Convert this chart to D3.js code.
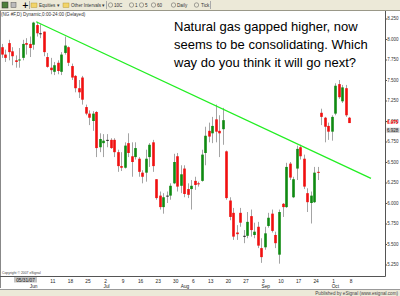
<!DOCTYPE html>
<html>
<head>
<meta charset="utf-8">
<script src="https://cdn.jsdelivr.net/npm/d3@7"></script>
<style>
  body { margin: 0; background: #fff; overflow: hidden; }
  svg { display: block; }
  .small { font-family: "Liberation Sans", Arial, sans-serif; font-size: 4.6px; fill: #333; }
</style>
</head>
<body>
<div id="chart"></div>
<script>
// NG #F daily candles, May 22 - Oct 8 2007: [open, high, low, close]
var ohlc = [
  [7.90,7.94,7.77,7.81],[7.81,7.87,7.72,7.77],[7.95,7.99,7.74,7.84],[7.85,7.90,7.68,7.79],[7.74,7.80,7.65,7.72],
  [7.74,7.89,7.65,7.75],[7.77,7.99,7.74,7.94],[7.95,8.01,7.81,7.93],[7.94,8.03,7.78,7.89],[7.93,8.21,7.87,8.20],
  [8.17,8.21,8.03,8.07],[8.07,8.18,8.01,8.07],[8.09,8.09,7.79,7.84],[7.78,7.83,7.65,7.66],[7.65,7.77,7.57,7.62],
  [7.60,7.72,7.56,7.68],[7.71,7.74,7.57,7.61],[7.60,7.84,7.56,7.81],[7.83,8.03,7.81,7.92],[7.90,7.91,7.67,7.71],
  [7.67,7.70,7.50,7.53],[7.55,7.56,7.35,7.40],[7.40,7.50,7.28,7.35],[7.53,7.55,7.20,7.26],[7.17,7.20,7.07,7.09],
  [7.09,7.13,6.95,7.04],[7.00,7.12,6.88,7.09],[7.11,7.12,6.56,6.67],[6.68,6.85,6.62,6.78],[6.73,6.84,6.56,6.76],
  [6.77,6.84,6.68,6.77],[6.77,6.79,6.66,6.67],[6.77,6.79,6.56,6.62],[6.62,6.65,6.38,6.45],[6.45,6.62,6.39,6.43],
  [6.43,6.74,6.42,6.70],[6.73,6.85,6.56,6.61],[6.57,6.74,6.32,6.50],[6.56,6.74,6.53,6.67],[6.54,6.56,6.32,6.38],
  [6.37,6.40,6.24,6.32],[6.37,6.65,6.26,6.54],[6.56,6.73,6.44,6.71],[6.74,6.77,6.38,6.45],[6.29,6.29,6.04,6.06],
  [6.09,6.14,5.92,5.95],[5.95,6.12,5.87,6.07],[6.09,6.14,6.00,6.09],[6.09,6.24,6.04,6.21],[6.24,6.60,6.23,6.50],
  [6.57,6.61,6.14,6.20],[6.21,6.46,6.12,6.35],[6.42,6.46,6.07,6.11],[6.17,6.24,6.06,6.10],[6.17,6.28,5.92,6.21],
  [6.27,6.32,6.16,6.22],[6.24,6.26,6.20,6.23],[6.27,6.65,6.26,6.59],[6.61,6.93,6.46,6.82],[6.88,6.98,6.74,6.81],
  [6.85,7.05,6.73,6.94],[7.02,7.20,6.74,6.87],[6.88,7.07,6.56,6.85],[6.90,7.16,6.71,7.01],[6.63,6.64,6.04,6.06],
  [6.03,6.07,5.79,5.83],[5.88,5.94,5.55,5.59],[5.64,5.73,5.55,5.62],[5.88,5.94,5.71,5.76],[5.60,5.67,5.51,5.60],
  [5.60,5.89,5.57,5.77],[5.84,5.92,5.59,5.67],[5.61,5.76,5.57,5.65],[5.71,5.77,5.45,5.48],[5.45,5.57,5.27,5.34],
  [5.46,5.71,5.43,5.63],[5.72,5.88,5.70,5.82],[5.87,5.92,5.64,5.66],[5.61,5.65,5.45,5.51],[5.37,5.92,5.26,5.89],
  [5.99,6.00,5.83,5.95],[5.95,6.49,5.94,6.44],[6.48,6.50,6.28,6.31],[6.07,6.32,6.06,6.29],[6.42,6.70,6.28,6.66],
  [6.68,6.71,6.53,6.57],[6.54,6.59,6.17,6.20],[6.12,6.18,5.89,6.01],[6.00,6.14,5.75,6.09],[6.01,6.44,6.00,6.37],
  [6.38,6.44,6.28,6.37],[7.10,7.15,6.95,7.05],[7.04,7.05,6.74,6.93],[6.94,6.98,6.77,6.87],[6.87,7.07,6.76,7.05],
  [7.09,7.46,7.07,7.43],[7.45,7.50,7.27,7.29],[7.24,7.44,7.22,7.41],[7.40,7.44,7.05,7.07],[7.04,7.05,6.975,6.975]
];

var priceTicks = [5.25, 5.5, 5.75, 6.0, 6.25, 6.5, 6.75, 7.0, 7.25, 7.5, 7.75, 8.0, 8.25];

// bar index -> label
var dayTicks = [
  {i: 14, label: "11"}, {i: 19, label: "18"}, {i: 24, label: "25"}, {i: 29, label: "2"},
  {i: 34, label: "9"}, {i: 39, label: "16"}, {i: 44, label: "23"}, {i: 49, label: "30"},
  {i: 54, label: "6"}, {i: 59, label: "13"}, {i: 64, label: "20"}, {i: 69, label: "27"},
  {i: 74, label: "3"}, {i: 79, label: "10"}, {i: 84, label: "17"}, {i: 89, label: "24"},
  {i: 94, label: "1"}, {i: 99, label: "8"}
];
var monthTicks = [
  {i: 8, label: "Jun"}, {i: 29, label: "Jul"}, {i: 51, label: "Aug"}, {i: 74, label: "Sep"}, {i: 94, label: "Oct"}
];
var cursorDate = {i: 7, label: "05/31/07"};

// hand-drawn trendline, bar index / price
var trendLine = [{i: 9.8, p: 8.21}, {i: 105.2, p: 6.30}];

var lastPrice = 6.975, prevPrice = 6.928;

var noteLines = [
  "Natural gas gapped higher, now",
  "seems to be consolidating. Which",
  "way do you think it will go next?"
];

var W = 400, H = 296;
var small = "Liberation Sans, Arial, sans-serif";
var svg = d3.select("#chart").append("svg")
    .attr("width", W)
    .attr("height", H);

svg.append("rect").attr("width", W).attr("height", H).attr("fill", "#fff");

var x = d3.scaleLinear().domain([0, 99]).range([1.7, 349.2]);
var y = d3.scaleLinear().domain([5.25, 8.25]).range([264.5, 18.5]);

// toolbar
var tb = svg.append("g");
tb.append("rect").attr("width", W).attr("height", 10).attr("fill", "#ece9d8");
tb.append("line").attr("x1", 0).attr("x2", W).attr("y1", 10.5).attr("y2", 10.5).attr("stroke", "#9a9888");
tb.append("rect").attr("x", 2).attr("y", 2).attr("width", 6).attr("height", 6).attr("fill", "#4f7f3a").attr("stroke", "#333").attr("stroke-width", 0.5);
tb.append("rect").attr("x", 11).attr("y", 2.5).attr("width", 5).attr("height", 5).attr("fill", "#bbb").attr("stroke", "#555").attr("stroke-width", 0.5);
tb.append("text").attr("x", 22).attr("y", 8).attr("font-size", 8).attr("font-weight", "bold").attr("font-family", "DejaVu Sans").text("+");
[31, 63].forEach(function(fx) {
  tb.append("rect").attr("x", fx).attr("y", 3).attr("width", 6).attr("height", 4.5).attr("fill", "#f2d46a").attr("stroke", "#a88a2a").attr("stroke-width", 0.4);
});
var tbText = [
  {x: 39, t: "Equities  \u25be"}, {x: 71, t: "Other Intervals  \u25be"},
  {x: 114, t: "10C"}, {x: 135, t: "1"}, {x: 145, t: "5"}, {x: 157, t: "60"}, {x: 177, t: "Daily"}, {x: 201, t: "Tick"}
];
tbText.forEach(function(d) {
  tb.append("text").attr("class", "small").attr("x", d.x).attr("y", 6.8).attr("font-size", 4.2).text(d.t);
});
[110.5, 131.5, 141.5, 153.5, 173.5, 196.5].forEach(function(cx) {
  tb.append("circle").attr("cx", cx).attr("cy", 5).attr("r", 2.2).attr("fill", "none").attr("stroke", "#555").attr("stroke-width", 0.5);
});
[29, 106, 210].forEach(function(sx) {
  tb.append("line").attr("x1", sx + 0.5).attr("x2", sx + 0.5).attr("y1", 1).attr("y2", 9).attr("stroke", "#aaa");
});

svg.append("text").attr("class", "small").attr("x", 1).attr("y", 16).attr("font-size", 4.6)
    .text("(NG #F,D) Dynamic,0:00-24:00 (Delayed)");

// frame
svg.append("line").attr("x1", 0.5).attr("x2", 0.5).attr("y1", 11).attr("y2", 288).attr("stroke", "#888");
svg.append("line").attr("x1", 385.5).attr("x2", 385.5).attr("y1", 11).attr("y2", 276.5).attr("stroke", "#555");
svg.append("line").attr("x1", 0).attr("x2", 385.5).attr("y1", 276.5).attr("y2", 276.5).attr("stroke", "#555");

// candles
var candles = svg.append("g").selectAll("g")
  .data(ohlc)
  .enter()
  .append("g");

candles.append("line")
    .attr("x1", function(d, i) { return Math.round(x(i)) + 0.5; })
    .attr("x2", function(d, i) { return Math.round(x(i)) + 0.5; })
    .attr("y1", function(d) { return y(d[1]); })
    .attr("y2", function(d) { return y(d[2]); })
    .attr("stroke", "#a4a4a4")
    .attr("stroke-width", 1);

candles.append("rect")
    .attr("x", function(d, i) { return Math.round(x(i)) - 0.8; })
    .attr("width", 2.6)
    .attr("y", function(d) { return y(Math.max(d[0], d[3])); })
    .attr("height", function(d) { return Math.max(1, Math.abs(y(d[0]) - y(d[3]))); })
    .attr("fill", function(d) { return d[3] > d[0] ? "#0f8a12" : (d[3] < d[0] ? "#f01010" : "#222"); });

// trendline
svg.append("line")
    .attr("x1", x(trendLine[0].i)).attr("y1", y(trendLine[0].p))
    .attr("x2", x(trendLine[1].i)).attr("y2", y(trendLine[1].p))
    .attr("stroke", "#22ee22")
    .attr("stroke-width", 1.3);

// price axis
var yAxis = svg.append("g")
    .attr("transform", "translate(385.5,0)")
    .call(d3.axisRight(y).tickValues(priceTicks).tickSize(1.5).tickFormat(d3.format(".3f")));
yAxis.select(".domain").remove();
yAxis.selectAll("line").attr("stroke", "#555");
yAxis.selectAll("text").attr("font-size", 4.5).attr("font-family", small).attr("fill", "#333").attr("x", 1.8);

// last price markers
svg.append("text").attr("x", 387).attr("y", y(lastPrice) + 0.5)
    .attr("font-size", 4.5).attr("font-family", small).attr("font-weight", "bold")
    .attr("fill", "#ff0000").text(d3.format(".3f")(lastPrice));
svg.append("rect").attr("x", 386.5).attr("y", y(prevPrice) + 0.8).attr("width", 13).attr("height", 5.2).attr("fill", "#c8c8c8");
svg.append("text").attr("x", 387).attr("y", y(prevPrice) + 5)
    .attr("font-size", 4.5).attr("font-family", small).attr("fill", "#222")
    .text(d3.format(".3f")(prevPrice));

// date axis
var xAxis = svg.append("g")
    .attr("transform", "translate(1.5,276.5)")
    .call(d3.axisBottom(x).tickValues(dayTicks.map(function(d) { return d.i; }))
      .tickSize(0).tickPadding(3)
      .tickFormat(function(v) { return dayTicks.find(function(d) { return d.i === v; }).label; }));
xAxis.select(".domain").remove();
xAxis.selectAll("text").attr("font-size", 4.8).attr("font-family", small).attr("fill", "#222");

svg.append("rect").attr("x", 14).attr("y", 277).attr("width", 23).attr("height", 5.5).attr("fill", "#c4c4c4");
svg.append("text").attr("x", x(cursorDate.i) - 0.8).attr("y", 281.8).attr("text-anchor", "middle")
    .attr("font-size", 4.8).attr("font-family", small).attr("fill", "#222").text(cursorDate.label);

svg.append("g").selectAll("text")
  .data(monthTicks)
  .enter()
  .append("text")
    .attr("x", function(d) { return x(d.i); })
    .attr("y", 287.5)
    .attr("font-size", 4.8)
    .attr("font-family", small)
    .attr("fill", "#222")
    .text(function(d) { return d.label; });

svg.append("text").attr("x", 2).attr("y", 273.8).attr("font-size", 3.4).attr("font-family", small).attr("fill", "#444")
    .text("Copyright \u00a9 2007 eSignal");

// status bar
svg.append("line").attr("x1", 0).attr("x2", W).attr("y1", 289.5).attr("y2", 289.5).attr("stroke", "#999");
svg.append("rect").attr("x", 0).attr("y", 290).attr("width", W).attr("height", 6).attr("fill", "#ece9d8");
svg.append("text").attr("x", 398).attr("y", 295).attr("text-anchor", "end")
    .attr("font-size", 4.6).attr("font-family", small).attr("fill", "#444")
    .text("Published by eSignal (www.esignal.com)");

// annotation
svg.append("g").selectAll("text")
  .data(noteLines)
  .enter()
  .append("text")
    .attr("x", 174)
    .attr("y", function(d, i) { return 31 + i * 17.8; })
    .attr("font-family", "Liberation Sans, Arial, sans-serif")
    .attr("font-size", 13)
    .attr("fill", "#000")
    .text(function(d) { return d; });
</script>
</body>
</html>
